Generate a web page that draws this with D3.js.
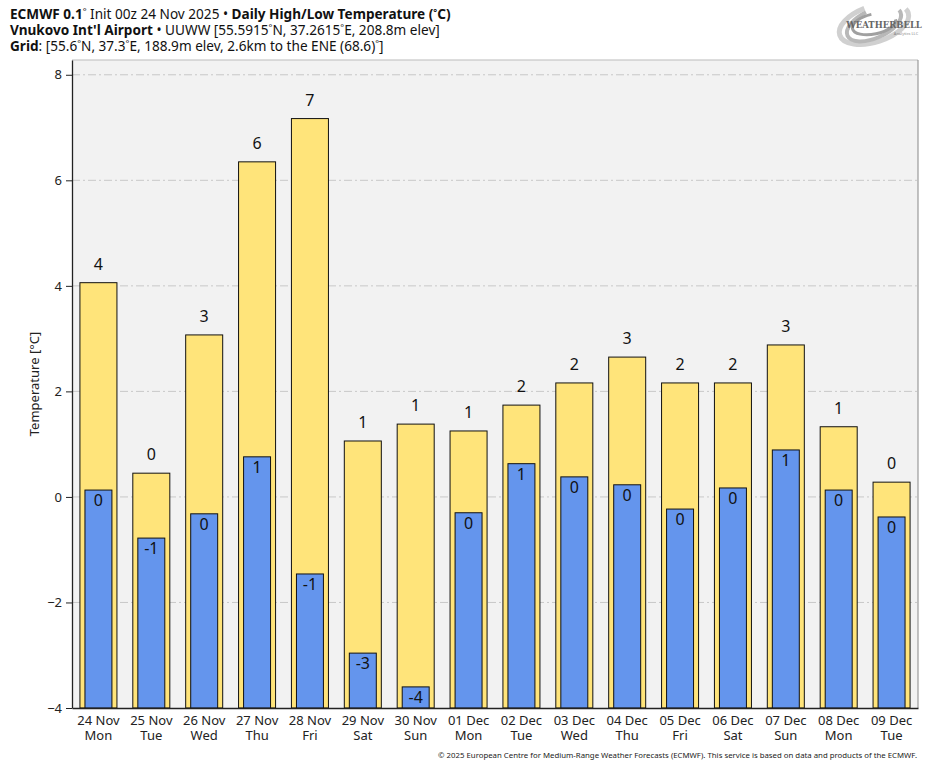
<!DOCTYPE html>
<html>
<head>
<meta charset="utf-8">
<script src="https://cdn.jsdelivr.net/npm/d3@7"></script>
<style>
  body { margin: 0; background: #fff; }
  svg { font-family: "Noto Sans", "Open Sans", sans-serif; display: block; }
</style>
</head>
<body>
<div id="chart"></div>
<script>
// daily high / low from the ECMWF meteogram
var dates = ["24 Nov", "25 Nov", "26 Nov", "27 Nov", "28 Nov", "29 Nov", "30 Nov", "01 Dec",
             "02 Dec", "03 Dec", "04 Dec", "05 Dec", "06 Dec", "07 Dec", "08 Dec", "09 Dec"];
var weekdays = ["Mon", "Tue", "Wed", "Thu", "Fri", "Sat", "Sun", "Mon",
                "Tue", "Wed", "Thu", "Fri", "Sat", "Sun", "Mon", "Tue"];
var highs = [4.06, 0.45, 3.07, 6.35, 7.17, 1.06, 1.38, 1.25, 1.74, 2.16, 2.65, 2.16, 2.16, 2.88, 1.33, 0.28];
var lows = [0.13, -0.78, -0.32, 0.76, -1.46, -2.96, -3.6, -0.30, 0.63, 0.38, 0.23, -0.23, 0.17, 0.89, 0.13, -0.38];
var yTicks = [-4, -2, 0, 2, 4, 6, 8];

// title lines: [text, bold, superscript]
var titleLines = [
  [["ECMWF 0.1", 1], ["°", 0, 1], [" Init 00z 24 Nov 2025 • ", 0], ["Daily High/Low Temperature (", 1], ["°", 1, 1], ["C)", 1]],
  [["Vnukovo Int'l Airport", 1], [" • UUWW [55.5915", 0], ["°", 0, 1], ["N, 37.2615", 0], ["°", 0, 1], ["E, 208.8m elev]", 0]],
  [["Grid", 1], [": [55.6", 0], ["°", 0, 1], ["N, 37.3", 0], ["°", 0, 1], ["E, 188.9m elev, 2.6km to the ENE (68.6)", 0], ["°", 0, 1], ["]", 0]]
];

var W = 935, H = 768;
var margin = { left: 72, right: 17, top: 60, bottom: 60 };

var svg = d3.select("#chart").append("svg")
  .attr("width", W)
  .attr("height", H);

var rows = dates.map(function (d, i) {
  return { date: d, day: weekdays[i], hi: highs[i], lo: lows[i] };
});

var x = d3.scaleBand()
  .domain(dates)
  .range([margin.left, W - margin.right])
  .paddingInner(0)
  .paddingOuter(0);

var y = d3.scaleLinear()
  .domain([-4, 8.28])
  .range([H - margin.bottom, margin.top]);

var yBase = y.range()[0];

// plot background
svg.append("rect")
  .attr("x", margin.left)
  .attr("y", margin.top)
  .attr("width", W - margin.left - margin.right)
  .attr("height", H - margin.top - margin.bottom)
  .attr("fill", "#f2f2f2");

// grid
svg.append("g")
  .selectAll("line")
  .data(yTicks.filter(function (t) { return t > -4; }))
  .enter().append("line")
  .attr("x1", margin.left)
  .attr("x2", W - margin.right)
  .attr("y1", function (t) { return y(t); })
  .attr("y2", function (t) { return y(t); })
  .attr("stroke", "#c8c8c8")
  .attr("stroke-width", 1)
  .attr("stroke-dasharray", "8,3,2,3");

var bw = x.bandwidth();

// high bars
svg.append("g")
  .selectAll("rect")
  .data(rows)
  .enter().append("rect")
  .attr("x", function (d) { return x(d.date) + bw * 0.15; })
  .attr("width", bw * 0.7)
  .attr("y", function (d) { return y(d.hi); })
  .attr("height", function (d) { return yBase - y(d.hi); })
  .attr("fill", "#ffe47a")
  .attr("stroke", "#111")
  .attr("stroke-width", 1);

// low bars
svg.append("g")
  .selectAll("rect")
  .data(rows)
  .enter().append("rect")
  .attr("x", function (d) { return x(d.date) + bw * 0.245; })
  .attr("width", bw * 0.51)
  .attr("y", function (d) { return y(d.lo); })
  .attr("height", function (d) { return yBase - y(d.lo); })
  .attr("fill", "#6495ed")
  .attr("stroke", "#111")
  .attr("stroke-width", 1);

function rnd(v) { return String(Math.round(v) + 0); }

// labels
svg.append("g")
  .selectAll("text")
  .data(rows)
  .enter().append("text")
  .attr("x", function (d) { return x(d.date) + bw / 2; })
  .attr("y", function (d) { return y(d.hi) - 13; })
  .attr("text-anchor", "middle")
  .attr("font-size", 16)
  .attr("fill", "#111")
  .text(function (d) { return rnd(d.hi); });

svg.append("g")
  .selectAll("text")
  .data(rows)
  .enter().append("text")
  .attr("x", function (d) { return x(d.date) + bw / 2; })
  .attr("y", function (d) { return y(d.lo) + 16; })
  .attr("text-anchor", "middle")
  .attr("font-size", 16)
  .attr("fill", "#111")
  .text(function (d) { return rnd(d.lo); });

// frame
svg.append("line")
  .attr("x1", margin.left).attr("x2", W - margin.right)
  .attr("y1", margin.top).attr("y2", margin.top)
  .attr("stroke", "#bbb");
svg.append("line")
  .attr("x1", W - margin.right).attr("x2", W - margin.right)
  .attr("y1", margin.top).attr("y2", yBase)
  .attr("stroke", "#888");

// y axis
var yAxis = svg.append("g")
  .attr("transform", "translate(" + margin.left + ",0)")
  .call(d3.axisLeft(y).tickValues(yTicks).tickSize(6).tickPadding(4).tickSizeOuter(0));
yAxis.select(".domain").attr("stroke", "#222").attr("stroke-width", 1.3);
yAxis.selectAll(".tick line").attr("stroke", "#222");
yAxis.selectAll(".tick text")
  .attr("font-size", 13)
  .attr("font-family", "Noto Sans, sans-serif")
  .attr("fill", "#222");

// x axis
var xAxis = svg.append("g")
  .attr("transform", "translate(0," + yBase + ")")
  .call(d3.axisBottom(x).tickSize(0).tickSizeOuter(0).tickFormat(""));
xAxis.select(".domain").attr("stroke", "#222").attr("stroke-width", 1.3);

var xl = svg.append("g")
  .attr("text-anchor", "middle")
  .attr("font-size", 13)
  .attr("fill", "#222");
xl.selectAll("text.d")
  .data(rows)
  .enter().append("text")
  .attr("class", "d")
  .attr("x", function (d) { return x(d.date) + bw / 2; })
  .attr("y", yBase + 17)
  .text(function (d) { return d.date; });
xl.selectAll("text.w")
  .data(rows)
  .enter().append("text")
  .attr("class", "w")
  .attr("x", function (d) { return x(d.date) + bw / 2; })
  .attr("y", yBase + 32)
  .text(function (d) { return d.day; });

svg.append("text")
  .attr("transform", "translate(39," + ((margin.top + yBase) / 2) + ") rotate(-90)")
  .attr("text-anchor", "middle")
  .attr("font-size", 13)
  .attr("fill", "#222")
  .text("Temperature [°C]");

// title block
var title = svg.append("g").attr("font-size", 13.6).attr("fill", "#111");
titleLines.forEach(function (line, li) {
  var t = title.append("text").attr("x", 10).attr("y", 19 + li * 16);
  var up = false;
  line.forEach(function (seg) {
    var sp = t.append("tspan").text(seg[0]);
    if (seg[1]) sp.attr("font-weight", "bold");
    if (seg[2]) {
      sp.attr("font-size", 9).attr("dy", -4);
      up = true;
    } else if (up) {
      sp.attr("dy", 4);
      up = false;
    }
  });
});

// logo
var logo = svg.append("g").attr("transform", "translate(874,24)");
[[36, 18, -18, "#d0d0d0", 5], [29, 14, -24, "#b8b8b8", 4], [22, 10, -12, "#a0a0a0", 3]].forEach(function (e) {
  logo.append("ellipse")
    .attr("rx", e[0]).attr("ry", e[1])
    .attr("transform", "rotate(" + e[2] + ")")
    .attr("fill", "none")
    .attr("stroke", e[3])
    .attr("stroke-width", e[4])
    .attr("stroke-dasharray", (e[0] * 3.5) + "," + (e[0] * 1.2));
});
logo.append("text")
  .attr("x", 10).attr("y", 4)
  .attr("text-anchor", "middle")
  .attr("font-size", 8.5)
  .attr("font-weight", "bold")
  .attr("font-family", "DejaVu Serif, serif")
  .attr("fill", "#666")
  .text("WEATHERBELL");
logo.append("text")
  .attr("x", 32).attr("y", 11)
  .attr("text-anchor", "middle")
  .attr("font-size", 4)
  .attr("fill", "#888")
  .text("Analytics LLC");

// footer
svg.append("text")
  .attr("x", W - 18)
  .attr("y", 758)
  .attr("text-anchor", "end")
  .attr("font-size", 7.8)
  .attr("fill", "#222")
  .text("© 2025 European Centre for Medium-Range Weather Forecasts (ECMWF). This service is based on data and products of the ECMWF.");
</script>
</body>
</html>
